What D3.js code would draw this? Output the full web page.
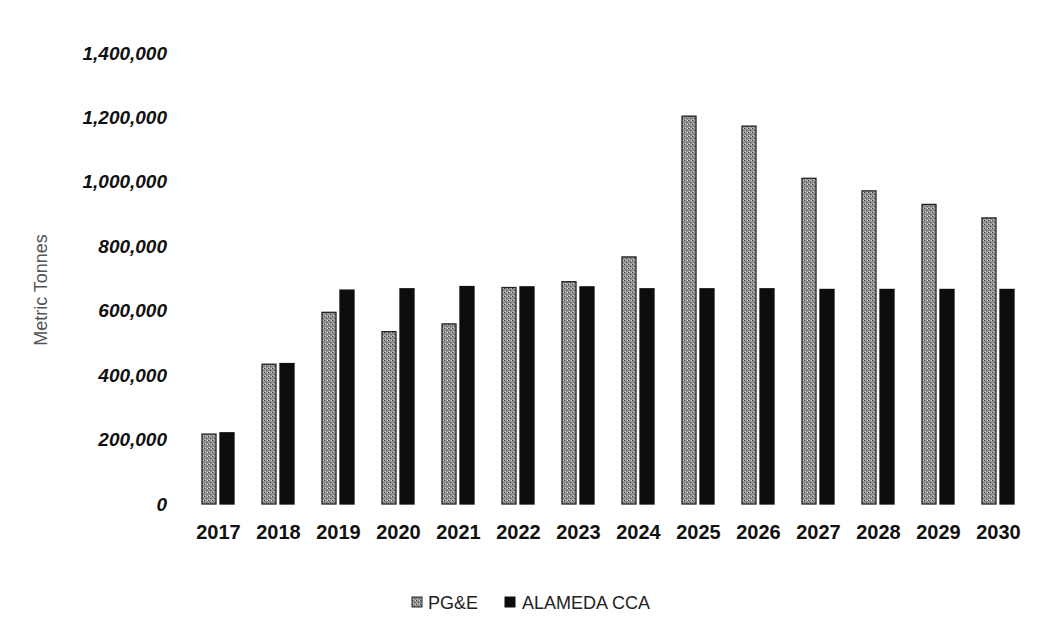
<!DOCTYPE html>
<html>
<head>
<meta charset="utf-8">
<script src="https://cdn.jsdelivr.net/npm/d3@7"></script>
<style>
  html, body { margin: 0; padding: 0; background: #fff; }
  svg { display: block; }
  text { font-family: "Liberation Sans", Arial, sans-serif; }
</style>
</head>
<body>
<svg id="chart" width="1048" height="630"></svg>
<script>
const years = ["2017","2018","2019","2020","2021","2022","2023","2024","2025","2026","2027","2028","2029","2030"];
const seriesNames = ["PG&E", "ALAMEDA CCA"];
const pgeValues = [217000, 434000, 595000, 535000, 559000, 672000, 690000, 767000, 1204000, 1173000, 1011000, 972000, 930000, 888000];
const alamedaValues = [221000, 436000, 664000, 668000, 675000, 674000, 674000, 668000, 668000, 668000, 666000, 666000, 666000, 666000];
const yTicks = [0, 200000, 400000, 600000, 800000, 1000000, 1200000, 1400000];
const yTitle = "Metric Tonnes";

const svg = d3.select("#chart");

// pattern for stippled gray bars
const defs = svg.append("defs");
const pat = defs.append("pattern").attr("id", "stip").attr("patternUnits", "userSpaceOnUse")
  .attr("width", 4).attr("height", 4);
pat.append("rect").attr("width", 4).attr("height", 4).attr("fill", "#929292");
pat.append("rect").attr("x", 0).attr("y", 0).attr("width", 1).attr("height", 1).attr("fill", "#444");
pat.append("rect").attr("x", 2).attr("y", 2).attr("width", 1).attr("height", 1).attr("fill", "#555");
pat.append("rect").attr("x", 3).attr("y", 0).attr("width", 1).attr("height", 1).attr("fill", "#d8d8d8");
pat.append("rect").attr("x", 1).attr("y", 3).attr("width", 1).attr("height", 1).attr("fill", "#cfcfcf");

const y = d3.scaleLinear().domain([0, 1400000]).range([504, 53]);
const x = d3.scalePoint().domain(years).range([218, 998]);
const xs = d3.scaleBand().domain(seriesNames).range([-16, 16]).paddingInner(0.222);

const fills = { "PG&E": "url(#stip)", "ALAMEDA CCA": "#0d0d0d" };
const strokes = { "PG&E": "#222", "ALAMEDA CCA": "#0d0d0d" };
const data = { "PG&E": pgeValues, "ALAMEDA CCA": alamedaValues };

// y axis labels
const yAxis = d3.axisLeft(y).tickValues(yTicks).tickSize(0).tickPadding(0)
  .tickFormat(d3.format(","));
const gy = svg.append("g").attr("transform", "translate(167,0)").call(yAxis);
gy.select(".domain").remove();
gy.selectAll("text").attr("font-size", 19).attr("fill", "#111").attr("font-style", "italic")
  .attr("font-weight", "bold");

// y title
svg.append("text").attr("transform", "translate(47,290) rotate(-90)")
  .attr("text-anchor", "middle").attr("font-size", 18).attr("fill", "#555")
  .text(yTitle);

// bars
seriesNames.forEach(s => {
  svg.append("g").selectAll("rect").data(data[s]).join("rect")
    .attr("x", (d, i) => x(years[i]) + xs(s))
    .attr("width", xs.bandwidth())
    .attr("y", d => y(d))
    .attr("height", d => y(0) - y(d))
    .attr("fill", fills[s])
    .attr("stroke", strokes[s])
    .attr("stroke-width", 1.3);
});

// x axis labels
const xAxis = d3.axisBottom(x).tickSize(0).tickPadding(0);
const gx = svg.append("g").attr("transform", "translate(0,520)").call(xAxis);
gx.select(".domain").remove();
gx.selectAll("text").attr("font-size", 20).attr("fill", "#111").attr("font-weight", "bold")
  .attr("dy", "0.95em");

// legend
const legendItems = [
  { name: "PG&E", sx: 412, tx: 428 },
  { name: "ALAMEDA CCA", sx: 505, tx: 522 }
];
const lg = svg.append("g");
legendItems.forEach(it => {
  lg.append("rect").attr("x", it.sx).attr("y", 597).attr("width", 10).attr("height", 10)
    .attr("fill", fills[it.name]).attr("stroke", strokes[it.name]).attr("stroke-width", 1);
  lg.append("text").attr("x", it.tx).attr("y", 609).attr("font-size", 18).attr("fill", "#222")
    .text(it.name);
});
</script>
</body>
</html>
